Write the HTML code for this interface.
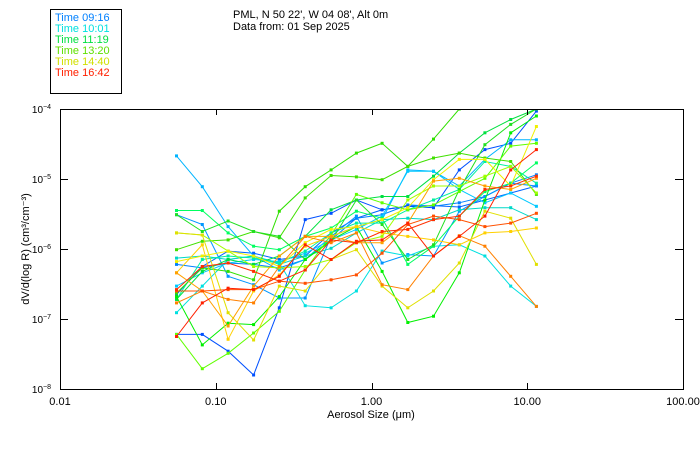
<!DOCTYPE html>
<html><head><meta charset="utf-8">
<style>
body{margin:0;background:#fff;}
svg{display:block;font-family:"Liberation Sans",sans-serif;}
</style></head>
<body>
<svg id="chart" width="700" height="450" viewBox="0 0 700 450" xmlns="http://www.w3.org/2000/svg">
<rect x="0" y="0" width="700" height="450" fill="#fff"/>
<g>
<rect x="50.5" y="9.5" width="71" height="84" fill="none" stroke="#000"/>
<text x="55" y="21" font-size="11" fill="#0080ff">Time 09:16</text>
<text x="55" y="32" font-size="11" fill="#00e0e0">Time 10:01</text>
<text x="55" y="43" font-size="11" fill="#00e040">Time 11:19</text>
<text x="55" y="54" font-size="11" fill="#60e000">Time 13:20</text>
<text x="55" y="65" font-size="11" fill="#d0e000">Time 14:40</text>
<text x="55" y="76" font-size="11" fill="#ff2000">Time 16:42</text>
</g>
<text x="233" y="18" font-size="11">PML, N 50 22', W 04 08', Alt 0m</text>
<text x="233" y="30" font-size="11">Data from: 01 Sep 2025</text>
<defs><clipPath id="plotclip"><rect x="60" y="109" width="623" height="280"/></clipPath></defs>
<g id="series" clip-path="url(#plotclip)"></g>
<rect x="60.5" y="109.5" width="623" height="280" fill="none" stroke="#000"/>
<g id="axes"></g>
<text x="371" y="418" font-size="11" text-anchor="middle">Aerosol Size (μm)</text>
<text transform="translate(29,249) rotate(-90)" font-size="11" text-anchor="middle">dV/d(log R) (cm³/cm⁻³)</text>
</svg>
<script>
const sizes=[0.056,0.082,0.12,0.175,0.256,0.375,0.55,0.8,1.17,1.71,2.5,3.66,5.35,7.83,11.45];
const xTicks=[0.01,0.1,1,10,100];
const xTickLabels=["0.01","0.10","1.00","10.00","100.00"];
const yTickExps=[-4,-5,-6,-7,-8];
const colors=["#0064ff","#0080ff","#0050ff","#0096ff","#00b4ff","#00e0e0","#00d8c8","#00c8ff","#00f0a0","#00e040","#30e000","#40e000","#00ff60","#20e020","#00f000","#60ff00","#a0ff00","#e0e000","#f0f000","#ffd000","#ffa000","#ff8000","#ff5000","#ff2000","#ff3000"];
const s1=[-6.65,-6.25,-6.03,-6.06,-6.15,-6.10,-5.77,-5.56,-5.44,-5.39,-5.38,-5.40,-5.30,-5.20,-5.10];
const s2=[-6.22,-6.27,-6.20,-6.22,-6.27,-6.15,-5.87,-5.56,-5.51,-5.37,-5.39,-5.34,-5.25,-5.06,-4.94];
const s3=[-7.22,-7.22,-7.46,-7.80,-6.84,-5.58,-5.49,-5.30,-5.44,-5.39,-5.41,-4.87,-4.58,-4.49,-4.03];
const s4=[-5.51,-5.65,-6.39,-6.51,-6.70,-6.70,-5.82,-5.53,-6.20,-6.08,-6.10,-5.46,-5.25,-5.06,-5.10];
const s5=[-4.67,-5.11,-5.68,-6.10,-6.30,-6.15,-5.82,-5.68,-5.58,-4.87,-4.89,-5.10,-4.72,-4.44,-4.44];
const s6=[-6.91,-6.53,-6.15,-6.10,-6.20,-6.81,-6.84,-6.60,-6.03,-6.10,-5.96,-5.94,-6.10,-6.53,-6.82];
const s7=[-6.13,-6.10,-6.15,-6.10,-6.22,-6.10,-5.99,-5.77,-5.58,-5.56,-5.58,-5.44,-5.41,-5.41,-5.58];
const s8=[-6.53,-6.34,-6.20,-6.15,-6.18,-6.06,-5.87,-5.72,-5.53,-4.89,-4.89,-5.15,-5.34,-5.20,-5.39];
const s9=[-6.72,-6.15,-6.10,-6.13,-6.20,-6.03,-5.77,-5.63,-5.63,-5.44,-5.30,-5.15,-4.75,-4.82,-5.06];
const s10=[-6.72,-6.32,-6.15,-6.22,-6.10,-5.82,-5.44,-5.30,-5.25,-5.25,-4.96,-4.63,-4.34,-4.15,-4.00];
const s11=[-6.63,-6.27,-6.32,-6.44,-5.46,-5.11,-4.87,-4.63,-4.49,-4.82,-4.43,-4.00,-3.80,-3.70,-3.60];
const s12=[-6.01,-5.89,-5.87,-5.75,-5.84,-5.27,-4.95,-4.97,-5.01,-4.82,-4.70,-4.63,-4.70,-4.75,-5.22];
const s13=[-5.45,-5.45,-5.77,-5.96,-6.01,-5.82,-5.70,-5.46,-5.56,-6.22,-5.96,-5.53,-5.18,-5.06,-4.77];
const s14=[-5.51,-5.75,-5.60,-5.75,-5.82,-6.15,-5.89,-5.30,-5.65,-6.15,-5.94,-5.15,-4.51,-4.22,-4.00];
const s15=[-6.68,-7.37,-7.06,-7.08,-6.68,-6.15,-5.87,-5.68,-6.32,-7.05,-6.96,-6.34,-5.30,-4.34,-4.10];
const s16=[-7.22,-7.71,-7.49,-7.20,-6.89,-6.30,-5.80,-5.22,-5.34,-5.44,-5.37,-5.18,-4.99,-4.53,-4.49];
const s17=[-5.77,-5.80,-6.03,-6.25,-6.27,-6.25,-6.15,-5.91,-5.82,-5.30,-5.10,-5.10,-4.96,-4.82,-5.20];
const s18=[-5.77,-5.80,-6.91,-7.30,-6.53,-6.60,-6.15,-6.01,-6.53,-6.84,-6.60,-6.20,-5.46,-5.56,-6.22];
const s19=[-6.18,-6.10,-6.03,-6.10,-6.25,-5.91,-5.72,-5.68,-5.58,-5.41,-5.01,-4.72,-4.72,-5.10,-4.25];
const s20=[-6.34,-5.94,-7.29,-6.60,-6.37,-5.96,-5.82,-5.68,-5.77,-5.82,-5.87,-5.94,-5.77,-5.75,-5.70];
const s21=[-6.34,-6.60,-7.10,-6.53,-6.10,-5.82,-5.82,-5.91,-5.91,-5.63,-5.03,-4.99,-5.10,-5.15,-4.99];
const s22=[-6.77,-6.60,-6.72,-6.77,-6.25,-5.82,-5.91,-5.77,-6.51,-6.58,-6.10,-5.81,-5.96,-6.39,-6.82];
const s23=[-6.60,-6.60,-6.58,-6.58,-6.46,-6.49,-6.44,-6.37,-6.06,-5.65,-5.53,-5.58,-5.68,-5.63,-5.49];
const s24=[-7.25,-6.77,-6.56,-6.58,-6.39,-5.94,-6.15,-5.89,-5.87,-5.63,-6.10,-5.82,-5.53,-4.87,-4.58];
const s25=[-6.58,-6.25,-6.20,-6.32,-6.46,-6.30,-5.87,-5.91,-5.75,-5.72,-5.58,-5.53,-5.15,-5.10,-4.96];
const allSeries=[s1,s2,s3,s4,s5,s6,s7,s8,s9,s10,s11,s12,s13,s14,s15,s16,s17,s18,s19,s20,s21,s22,s23,s24,s25];

const NS="http://www.w3.org/2000/svg";
const X0=60,X1=683,Y0=389,Y1=109;
function xScale(v){return X0+(Math.log10(v)+2)/4*(X1-X0);}
function yScale(e){return Y0-(e+8)/4*(Y0-Y1);}
const sg=document.getElementById('series');
allSeries.forEach((ser,i)=>{
  const pts=ser.map((e,j)=>xScale(sizes[j]).toFixed(1)+','+yScale(e).toFixed(1)).join(' ');
  const pl=document.createElementNS(NS,'polyline');
  pl.setAttribute('points',pts);
  pl.setAttribute('fill','none');
  pl.setAttribute('stroke',colors[i]);
  pl.setAttribute('stroke-width','1');
  
  
  sg.appendChild(pl);
  ser.forEach((e,j)=>{
    const r=document.createElementNS(NS,'rect');
    r.setAttribute('x',(xScale(sizes[j])-1.5).toFixed(1));
    r.setAttribute('y',(yScale(e)-1.5).toFixed(1));
    r.setAttribute('width','3');r.setAttribute('height','3');
    r.setAttribute('fill',colors[i]);
    
    
    sg.appendChild(r);
  });
});
const ax=document.getElementById('axes');
function line(x1,y1,x2,y2,name){
  const l=document.createElementNS(NS,'line');
  l.setAttribute('x1',x1);l.setAttribute('y1',y1);l.setAttribute('x2',x2);l.setAttribute('y2',y2);
  l.setAttribute('stroke','#000');
  
  
  ax.appendChild(l);
}
xTicks.forEach((v,i)=>{
  const x=Math.round(xScale(v))+0.5;
  line(x,Y0,x,Y0-6,'x-tick');
  line(x,Y1,x,Y1+6,'x-tick-top');
  const t=document.createElementNS(NS,'text');
  t.setAttribute('x',xScale(v));t.setAttribute('y',405);
  t.setAttribute('font-size','11');t.setAttribute('text-anchor','middle');
  t.textContent=xTickLabels[i];
  
  
  ax.appendChild(t);
});
yTickExps.forEach(e=>{
  const y=Math.round(yScale(e))+0.5;
  line(X0,y,X0+8,y,'y-tick');
  line(X1,y,X1-8,y,'y-tick-right');
  const t=document.createElementNS(NS,'text');
  t.setAttribute('x',51);t.setAttribute('y',yScale(e)+4);
  t.setAttribute('font-size','10');t.setAttribute('text-anchor','end');
  t.textContent='10';
  
  
  const sup=document.createElementNS(NS,'tspan');
  sup.setAttribute('font-size','7');sup.setAttribute('dy','-4');
  sup.textContent=String(e).replace('-','−');
  t.appendChild(sup);
  ax.appendChild(t);
});
</script>
</body></html>
